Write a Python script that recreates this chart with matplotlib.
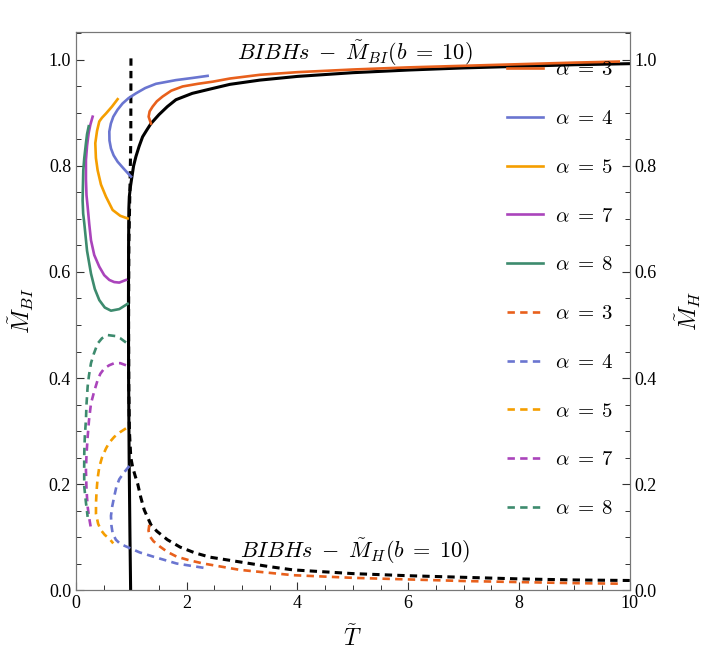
#!/usr/bin/env python3
"""Mass vs temperature for BI black holes, two branches on twin axes."""

import matplotlib

matplotlib.use("Agg")
import matplotlib.pyplot as plt
from matplotlib.ticker import MultipleLocator

plt.rcParams["font.family"] = ["Liberation Serif", "DejaVu Serif"]
plt.rcParams["mathtext.fontset"] = "cm"

# --- data (T, M) ---
alphas = [3, 4, 5, 7, 8]
colors = ["#e8601c", "#6a75d0", "#f59e00", "#aa44bb", "#3d8b6e"]

black_bi_T = [0.987, 0.975, 0.96, 0.95, 0.948, 0.95, 0.955, 0.963, 0.985, 1.011, 1.04,
              1.083, 1.14, 1.203, 1.28, 1.354, 1.5, 1.65, 1.805, 2.1, 2.497, 2.78,
              3.32, 4.0, 5.0, 6.0, 7.0, 8.0, 9.0, 10.0]
black_bi_M = [0.0, 0.1, 0.25, 0.4, 0.55, 0.65, 0.72, 0.742, 0.762, 0.78, 0.8,
              0.818, 0.837, 0.855, 0.868, 0.88, 0.897, 0.912, 0.925, 0.937, 0.947, 0.954,
              0.962, 0.969, 0.976, 0.981, 0.985, 0.988, 0.991, 0.993]

black_h_T = [0.993, 0.99, 0.975, 0.955, 0.95, 0.955, 0.965, 0.99, 1.023, 1.07, 1.113,
             1.17, 1.233, 1.354, 1.46, 1.65, 1.88, 2.15, 2.42, 2.96, 3.5, 3.92, 5.0,
             6.0, 7.0, 8.0, 9.0, 10.0]
black_h_M = [1.003, 0.85, 0.76, 0.65, 0.5, 0.38, 0.3, 0.25, 0.232, 0.215, 0.201,
             0.175, 0.151, 0.123, 0.111, 0.095, 0.081, 0.07, 0.062, 0.053, 0.044, 0.038,
             0.031, 0.027, 0.024, 0.021, 0.019, 0.018]

bi_T = {
    3: [1.354, 1.312, 1.33, 1.384, 1.46, 1.564, 1.72, 1.925, 2.2, 2.467, 2.78, 3.32,
        4.0, 5.0, 6.0, 7.0, 8.0, 9.0, 9.8],
    4: [2.377, 2.1, 1.805, 1.6, 1.444, 1.25, 1.083, 0.95, 0.842, 0.75, 0.674, 0.63,
        0.602, 0.605, 0.632, 0.68, 0.752, 0.87, 0.993],
    5: [0.752, 0.65, 0.542, 0.47, 0.421, 0.38, 0.349, 0.36, 0.391, 0.451, 0.542,
        0.662, 0.8, 0.933],
    7: [0.301, 0.26, 0.229, 0.2, 0.18, 0.18, 0.19, 0.211, 0.24, 0.271, 0.33, 0.421,
        0.51, 0.602, 0.69, 0.782, 0.903],
    8: [0.23, 0.2, 0.18, 0.15, 0.132, 0.125, 0.12, 0.13, 0.15, 0.2, 0.271, 0.34,
        0.421, 0.52, 0.632, 0.782, 0.933],
}
bi_M = {
    3: [0.88, 0.893, 0.903, 0.912, 0.922, 0.931, 0.942, 0.95, 0.955, 0.959, 0.965,
        0.972, 0.977, 0.982, 0.986, 0.989, 0.992, 0.995, 0.997],
    4: [0.97, 0.966, 0.962, 0.958, 0.955, 0.947, 0.937, 0.928, 0.918, 0.906, 0.893,
        0.88, 0.865, 0.848, 0.833, 0.82, 0.808, 0.794, 0.78],
    5: [0.926, 0.912, 0.899, 0.891, 0.884, 0.866, 0.843, 0.815, 0.792, 0.765, 0.742,
        0.717, 0.706, 0.701],
    7: [0.893, 0.878, 0.862, 0.838, 0.811, 0.775, 0.745, 0.723, 0.69, 0.66, 0.632,
        0.61, 0.594, 0.585, 0.581, 0.58, 0.585],
    8: [0.875, 0.86, 0.843, 0.815, 0.792, 0.76, 0.735, 0.71, 0.692, 0.64, 0.597,
        0.568, 0.547, 0.533, 0.527, 0.53, 0.54],
}

h_T = {
    3: [1.324, 1.31, 1.336, 1.4, 1.516, 1.65, 1.818, 2.05, 2.3, 2.96, 3.92, 5.0, 6.0,
        7.0, 8.0, 9.0, 9.8],
    4: [0.963, 0.87, 0.782, 0.73, 0.692, 0.655, 0.632, 0.64, 0.662, 0.72, 0.8, 0.975,
        1.15, 1.395, 1.818, 2.36],
    5: [0.903, 0.8, 0.692, 0.6, 0.542, 0.47, 0.421, 0.39, 0.373, 0.362, 0.361, 0.4,
        0.451, 0.52, 0.602, 0.673],
    7: [0.903, 0.8, 0.692, 0.6, 0.511, 0.44, 0.391, 0.33, 0.271, 0.235, 0.211, 0.19,
        0.18, 0.19, 0.211, 0.24, 0.271],
    8: [0.903, 0.8, 0.722, 0.572, 0.47, 0.391, 0.32, 0.271, 0.235, 0.211, 0.19, 0.18,
        0.16, 0.15, 0.148, 0.15, 0.18, 0.211],
}
h_M = {
    3: [0.123, 0.112, 0.101, 0.092, 0.082, 0.072, 0.063, 0.056, 0.05, 0.038, 0.028,
        0.023, 0.02, 0.017, 0.015, 0.013, 0.012],
    4: [0.234, 0.222, 0.209, 0.195, 0.177, 0.158, 0.14, 0.122, 0.107, 0.095, 0.087,
        0.079, 0.071, 0.063, 0.05, 0.041],
    5: [0.305, 0.298, 0.289, 0.278, 0.267, 0.25, 0.232, 0.21, 0.188, 0.165, 0.144,
        0.125, 0.113, 0.104, 0.097, 0.088],
    7: [0.424, 0.428, 0.428, 0.424, 0.418, 0.408, 0.396, 0.375, 0.352, 0.32, 0.289,
        0.255, 0.226, 0.19, 0.157, 0.135, 0.116],
    8: [0.467, 0.475, 0.479, 0.481, 0.475, 0.465, 0.445, 0.428, 0.405, 0.384, 0.35,
        0.321, 0.29, 0.258, 0.225, 0.195, 0.165, 0.138],
}


def main() -> None:
    fig = plt.figure(figsize=(7.1, 6.64), dpi=100)
    ax = fig.add_axes([0.107, 0.1114, 0.780, 0.8406])

    dash = (2.8, 2.0)
    for a, c in zip(alphas, colors):
        ax.plot(bi_T[a], bi_M[a], color=c, lw=1.9, label=rf"$\alpha\;=\;{a}$",
                solid_joinstyle="round", zorder=3)
    for a, c in zip(alphas, colors):
        ax.plot(h_T[a], h_M[a], color=c, lw=1.9, ls=(0, dash), label=rf"$\alpha\;=\;{a}$",
                dash_joinstyle="round", zorder=3)

    ax.plot(black_h_T, black_h_M, color="black", lw=2.2, ls=(0, (2.4, 1.7)), zorder=2)
    ax.plot(black_bi_T, black_bi_M, color="black", lw=2.2, solid_joinstyle="round",
            zorder=2)

    ax.text(2.9, 1.0, r"$BIBHs\;-\;\tilde{M}_{BI}(b\;=\;10)$", fontsize=16, ha="left",
            va="baseline")
    ax.text(2.96, 0.0604, r"$BIBHs\;-\;\tilde{M}_{H}(b\;=\;10)$", fontsize=16,
            ha="left", va="baseline")

    ax.set_xlim(0, 10)
    ax.set_ylim(0, 1.053)
    ax.xaxis.set_major_locator(MultipleLocator(2))
    ax.xaxis.set_minor_locator(MultipleLocator(0.5))
    ax.yaxis.set_major_locator(MultipleLocator(0.2))
    ax.yaxis.set_minor_locator(MultipleLocator(0.05))
    ax.yaxis.set_major_formatter(lambda v, p: f"{v:.1f}")
    ax.set_xlabel(r"$\tilde{T}$", fontsize=17, labelpad=10)
    ax.set_ylabel(r"$\tilde{M}_{BI}$", fontsize=17, labelpad=9)

    ax2 = ax.twinx()
    ax2.set_ylim(ax.get_ylim())
    ax2.yaxis.set_major_locator(MultipleLocator(0.2))
    ax2.yaxis.set_minor_locator(MultipleLocator(0.05))
    ax2.yaxis.set_major_formatter(lambda v, p: f"{v:.1f}")
    ax2.set_ylabel(r"$\tilde{M}_{H}$", fontsize=17, labelpad=12)

    for a_ in (ax, ax2):
        a_.tick_params(which="both", direction="in", labelsize=13, colors="#333333",
                       labelcolor="black")
        a_.tick_params(which="major", length=6, width=0.8)
        a_.tick_params(which="minor", length=3.5, width=0.7)
        for sp in a_.spines.values():
            sp.set_color("#777777")
    ax.tick_params(top=False, right=False)
    ax2.tick_params(left=False)

    leg = ax.legend(loc="upper left", bbox_to_anchor=(0.778, 0.948), frameon=False,
                    fontsize=15, handlelength=1.73, handletextpad=0.6, labelspacing=1.4,
                    borderaxespad=0, borderpad=0)
    leg.set_zorder(5)

    fig.savefig("out.png", dpi=100)


if __name__ == "__main__":
    main()
